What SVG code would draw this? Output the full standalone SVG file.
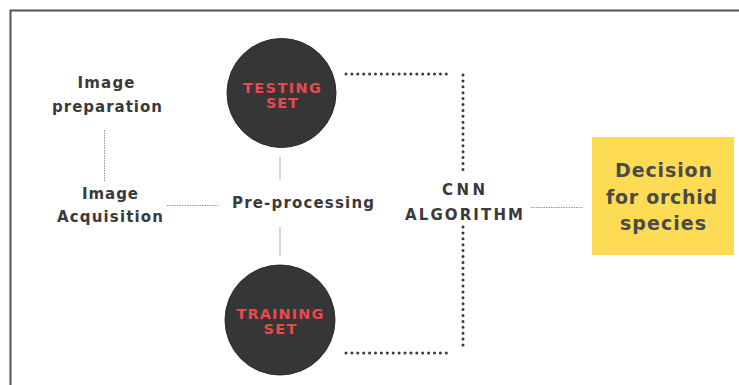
<svg xmlns="http://www.w3.org/2000/svg" width="739" height="385" viewBox="0 0 739 385">
<style>
.lbl{font-family:"DejaVu Sans","Liberation Sans",sans-serif;font-weight:700;font-size:15px;fill:#3a3a3a;text-anchor:middle}
.ctx{font-family:"DejaVu Sans","Liberation Sans",sans-serif;font-weight:700;font-size:14.5px;fill:#e8484e;text-anchor:middle}
.dec{font-family:"DejaVu Sans","Liberation Sans",sans-serif;font-weight:700;font-size:19px;fill:#4a4a4a;text-anchor:middle}
.circ{fill:#363636;stroke:#2a2a2a;stroke-width:1}
.dots{fill:none;stroke:#3a3a3a;stroke-width:3;stroke-linecap:round;stroke-dasharray:0 5.9}
.thin{fill:none;stroke:#999;stroke-width:1;stroke-dasharray:1.5 1}
.solid{fill:none;stroke:#c8c8c8;stroke-width:1.5}
</style>
<rect x="0" y="0" width="739" height="385" fill="#ffffff"/>
<path d="M10.5 385 V10.5 H739" fill="none" stroke="#555" stroke-width="2"/>
<g id="connectors">
<path class="dots" d="M346 74 H451"/>
<path class="dots" d="M463 75 V173"/>
<path class="dots" d="M463 227 V347"/>
<path class="dots" d="M346 353 H451"/>
<path class="thin" d="M104.5 130 V182"/>
<path class="thin" d="M167 205.5 H218"/>
<path class="thin" d="M531 207.5 H583"/>
<path class="solid" d="M280 157 V180"/>
<path class="solid" d="M280 227 V256"/>
</g>
<g id="image-preparation">
<text class="lbl" x="106" y="88" textLength="57">Image</text>
<text class="lbl" x="107" y="112" textLength="110">preparation</text>
</g>
<g id="image-acquisition">
<text class="lbl" x="110" y="199" textLength="56">Image</text>
<text class="lbl" x="110" y="222" textLength="106">Acquisition</text>
</g>
<g id="pre-processing">
<text class="lbl" x="303" y="208" textLength="142">Pre-processing</text>
</g>
<g id="testing-set">
<circle class="circ" cx="281.5" cy="93" r="54.5"/>
<text class="ctx" x="282" y="93" textLength="78">TESTING</text>
<text class="ctx" x="282" y="108" textLength="32">SET</text>
</g>
<g id="training-set">
<circle class="circ" cx="280" cy="320" r="55"/>
<text class="ctx" x="280" y="319" textLength="87">TRAINING</text>
<text class="ctx" x="280" y="334" textLength="33">SET</text>
</g>
<g id="cnn-algorithm">
<text class="lbl" x="463.5" y="195" textLength="43">CNN</text>
<text class="lbl" x="464" y="220" textLength="118">ALGORITHM</text>
</g>
<g id="decision">
<rect x="592" y="137" width="142" height="118" fill="#fedb55"/>
<text class="dec" x="663.5" y="177" textLength="97">Decision</text>
<text class="dec" x="661.5" y="204" textLength="111">for orchid</text>
<text class="dec" x="663" y="230" textLength="86">species</text>
</g>
</svg>
